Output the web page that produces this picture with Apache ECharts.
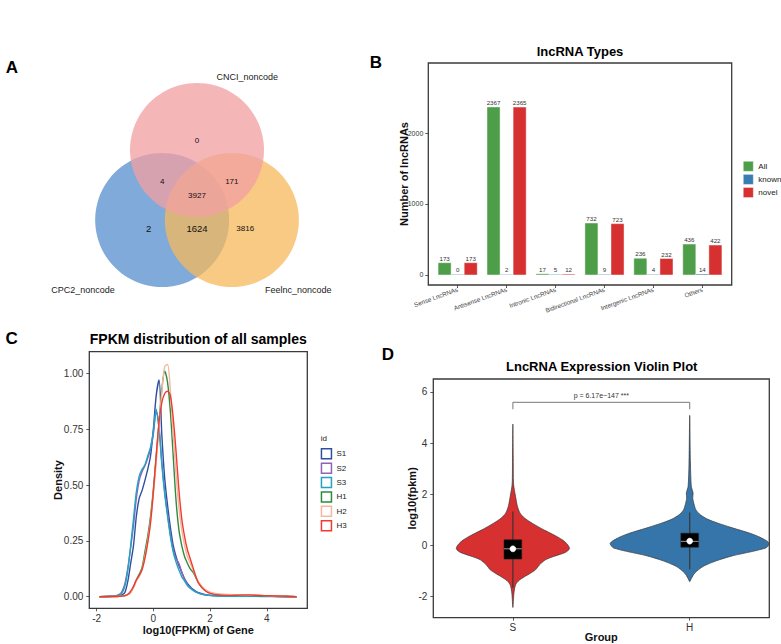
<!DOCTYPE html>
<html>
<head>
<meta charset="utf-8">
<script src="https://cdn.jsdelivr.net/npm/echarts@6/dist/echarts.min.js"></script>
<style>html,body{margin:0;padding:0;background:#fff}#main{width:781px;height:644px}</style>
</head>
<body>
<div id="main"></div>
<script>
// ================= DATA =================
// Panel A : Venn diagram
const vennSetNames = ['CNCI_noncode', 'CPC2_noncode', 'Feelnc_noncode'];
const vennRegionNames = ['CNCI only', 'CNCI & CPC2', 'CNCI & Feelnc', 'CNCI & CPC2 & Feelnc', 'CPC2 only', 'CPC2 & Feelnc', 'Feelnc only'];
const vennRegionCounts = [0, 4, 171, 3927, 2, 1624, 3816];

// Panel B : lncRNA types
const bTitle = 'lncRNA Types';
const bCategories = ['Sense LncRNAs', 'Antisense LncRNAs', 'Intronic LncRNAs', 'Bidirectional LncRNAs', 'Intergenic LncRNAs', 'Others'];
const bSeriesNames = ['All', 'known', 'novel'];
const bAll = [173, 2367, 17, 732, 236, 436];
const bKnown = [0, 2, 5, 9, 4, 14];
const bNovel = [173, 2365, 12, 723, 232, 422];
const bYTicks = [0, 1000, 2000];

// Panel C : FPKM density
const cTitle = 'FPKM distribution of all samples';
const cSeriesNames = ['S1', 'S2', 'S3', 'H1', 'H2', 'H3'];
const cX = [-1.9, -1.4, -1.2, -1.1, -1.0, -0.9, -0.8, -0.7, -0.6, -0.5, -0.4, -0.3, -0.2, -0.1, 0.0, 0.1, 0.2, 0.3, 0.4, 0.5, 0.6, 0.7, 0.8, 0.9, 1.0, 1.1, 1.2, 1.3, 1.4, 1.5, 1.6, 1.8, 2.0, 2.3, 2.8, 3.3, 3.8, 4.4, 5.05];
const cS1 = [0, 0.002, 0.004, 0.008, 0.02, 0.07, 0.15, 0.23, 0.36, 0.44, 0.475, 0.52, 0.57, 0.63, 0.75, 0.90, 0.97, 0.72, 0.53, 0.41, 0.31, 0.23, 0.18, 0.14, 0.11, 0.08, 0.06, 0.045, 0.033, 0.024, 0.018, 0.01, 0.006, 0.004, 0.003, 0.002, 0.002, 0.001, 0];
const cS2 = [0, 0.003, 0.01, 0.025, 0.06, 0.13, 0.22, 0.32, 0.44, 0.52, 0.56, 0.585, 0.62, 0.66, 0.73, 0.83, 0.76, 0.60, 0.47, 0.37, 0.28, 0.21, 0.17, 0.15, 0.11, 0.08, 0.055, 0.04, 0.03, 0.022, 0.016, 0.009, 0.006, 0.004, 0.003, 0.002, 0.002, 0.001, 0];
const cS3 = [0, 0.002, 0.008, 0.018, 0.05, 0.12, 0.23, 0.35, 0.47, 0.54, 0.57, 0.59, 0.63, 0.67, 0.74, 0.84, 0.75, 0.59, 0.46, 0.36, 0.27, 0.20, 0.155, 0.12, 0.09, 0.07, 0.05, 0.038, 0.028, 0.02, 0.015, 0.008, 0.005, 0.003, 0.002, 0.002, 0.001, 0.001, 0];
const cH1 = [0, 0.001, 0.002, 0.003, 0.005, 0.01, 0.02, 0.045, 0.075, 0.10, 0.13, 0.20, 0.27, 0.36, 0.48, 0.63, 0.78, 0.93, 1.01, 0.96, 0.83, 0.63, 0.43, 0.30, 0.23, 0.18, 0.15, 0.125, 0.11, 0.085, 0.06, 0.03, 0.018, 0.01, 0.009, 0.006, 0.005, 0.002, 0];
const cH2 = [0, 0.001, 0.002, 0.003, 0.005, 0.01, 0.02, 0.04, 0.07, 0.09, 0.12, 0.18, 0.25, 0.34, 0.46, 0.60, 0.76, 0.92, 1.03, 1.04, 0.92, 0.73, 0.55, 0.40, 0.30, 0.23, 0.18, 0.15, 0.12, 0.09, 0.065, 0.035, 0.02, 0.012, 0.009, 0.007, 0.006, 0.003, 0];
const cH3 = [0, 0.001, 0.002, 0.003, 0.005, 0.01, 0.025, 0.045, 0.075, 0.095, 0.12, 0.17, 0.24, 0.33, 0.47, 0.63, 0.78, 0.87, 0.91, 0.92, 0.90, 0.80, 0.65, 0.48, 0.35, 0.27, 0.21, 0.17, 0.13, 0.09, 0.06, 0.03, 0.015, 0.008, 0.006, 0.008, 0.005, 0.003, 0];
const cXTicks = [-2, 0, 2, 4];
const cYTicks = [0, 0.25, 0.5, 0.75, 1.0];

// Panel D : violin plot
const dTitle = 'LncRNA Expression Violin Plot';
const dGroups = ['S', 'H'];
const dViolinLevelsS = [4.74, 3.5, 2.4, 1.92, 1.52, 1.26, 1.07, 0.87, 0.61, 0.42, 0.22, 0.03, -0.13, -0.27, -0.43, -0.56, -0.76, -0.95, -1.08, -1.21, -1.37, -1.54, -1.86, -2.42];
const dViolinDensityS = [0, 0.002, 0.004, 0.015, 0.026, 0.041, 0.066, 0.109, 0.175, 0.23, 0.28, 0.31, 0.32, 0.297, 0.23, 0.184, 0.15, 0.128, 0.10, 0.068, 0.034, 0.015, 0.006, 0];
const dViolinLevelsH = [5.08, 3.22, 2.31, 2.05, 1.85, 1.65, 1.39, 1.2, 1.03, 0.87, 0.68, 0.48, 0.33, 0.16, 0.07, -0.04, -0.10, -0.23, -0.40, -0.60, -0.82, -1.08, -1.28, -1.41];
const dViolinDensityH = [0, 0.004, 0.009, 0.019, 0.017, 0.023, 0.035, 0.06, 0.1, 0.16, 0.245, 0.34, 0.395, 0.44, 0.45, 0.44, 0.43, 0.357, 0.244, 0.15, 0.075, 0.028, 0.01, 0];
// [lower whisker, Q1, median, Q3, upper whisker]
const dBoxS = [-1.65, -0.53, -0.13, 0.22, 1.33];
const dBoxH = [-0.93, -0.065, 0.16, 0.48, 1.29];
const dMeans = [-0.13, 0.17];
const dPLabel = 'p = 6.17e\u2212147 ***';
const dYTicks = [-2, 0, 2, 4, 6];

// ================= LAYOUT / STYLE =================
const FONT = '"Liberation Sans", Arial, Helvetica, sans-serif';
const vennCircleCenters = [[0, 1.045], [-0.52, 0], [0.52, 0]]; // unit = circle radius
const vennCircleColors = ['rgba(242,160,163,0.77)', 'rgb(127,170,217)', 'rgba(246,184,91,0.75)'];
const vennDrawOrder = [1, 2, 0];
const vennRegionPos = [[0, 1.19], [-0.52, 0.58], [0.52, 0.58], [0, 0.36], [-0.72, -0.13], [0, -0.13], [0.72, -0.13]];
const vennRegionFont = [8, 8, 8, 8, 9.5, 9.5, 8];
const vennSetLabelPos = [[0.75, 2.13], [-1.70, -1.045], [1.51, -1.045]];
const bColors = ['#4E9E49', '#3A7BB2', '#D63030'];
const bDodge = 0.8 / 3;
const cColors = ['#2F4F9E', '#9163B6', '#22A3C4', '#2E8B3E', '#F5B7A0', '#F23B2F'];
const dColors = ['#D63030', '#3575AA'];
const dBracket = {top: 5.59, foot: 5.32, text: 5.72};

const chart = echarts.init(document.getElementById('main'), null, {renderer: 'svg', width: 781, height: 644});

function mkAxis(gridIndex, min, max, ticks, label, name, pos) {
  return {
    gridIndex: gridIndex, type: 'value', min: min, max: max, position: pos,
    axisLine: {show: false, onZero: false}, splitLine: {show: false}, splitArea: {show: false}, minorTick: {show: false},
    axisTick: {show: true, customValues: ticks, length: 3, inside: false, lineStyle: {color: '#333', width: 0.8}},
    axisLabel: Object.assign({show: true, inside: false, customValues: ticks, fontFamily: FONT, color: '#333', hideOverlap: false}, label || {}),
    name: name ? name.text : '', nameLocation: 'middle', nameGap: name ? name.gap : 0, nameMoveOverlap: false,
    nameTextStyle: name ? {fontFamily: FONT, fontSize: name.size, fontWeight: 'bold', color: '#111'} : {}
  };
}

function txt(text, x, y, size, bold, extra) {
  return Object.assign({type: 'text', x: x, y: y, silent: true, z: 100,
    style: {text: text, fontSize: size, fontWeight: bold ? 'bold' : 'normal', fontFamily: FONT, fill: '#000', align: 'center', verticalAlign: 'middle'}}, extra || {});
}

const frame = {show: true, borderColor: '#3a3a3a', borderWidth: 1.3, backgroundColor: '#fff', outerBoundsMode: 'none', containLabel: false};

// ---------- series ----------
const series = [];

// Venn circles
series.push({
  type: 'custom', name: 'venn', coordinateSystem: 'cartesian2d', xAxisIndex: 0, yAxisIndex: 0, clip: false, silent: true,
  data: vennDrawOrder.map(function (i) { return [vennCircleCenters[i][0], vennCircleCenters[i][1], i]; }),
  renderItem: function (params, api) {
    const c = api.coord([api.value(0), api.value(1)]);
    const r = api.size([1, 1])[0];
    return {type: 'circle', shape: {cx: c[0], cy: c[1], r: r}, style: {fill: vennCircleColors[api.value(2)], stroke: 'none'}};
  }
});
series.push({
  type: 'custom', name: 'vennCounts', coordinateSystem: 'cartesian2d', xAxisIndex: 0, yAxisIndex: 0, clip: false, silent: true, z: 5,
  data: vennRegionCounts.map(function (v, i) { return [vennRegionPos[i][0], vennRegionPos[i][1], v, i]; }),
  renderItem: function (params, api) {
    const c = api.coord([api.value(0), api.value(1)]);
    return {type: 'text', x: c[0], y: c[1], style: {text: String(api.value(2)), fontSize: vennRegionFont[api.value(3)], fontFamily: FONT, fill: '#111', align: 'center', verticalAlign: 'middle'}};
  }
});
series.push({
  type: 'custom', name: 'vennSets', coordinateSystem: 'cartesian2d', xAxisIndex: 0, yAxisIndex: 0, clip: false, silent: true, z: 5,
  data: vennSetNames.map(function (n, i) { return [vennSetLabelPos[i][0], vennSetLabelPos[i][1], i]; }),
  renderItem: function (params, api) {
    const c = api.coord([api.value(0), api.value(1)]);
    return {type: 'text', x: c[0], y: c[1], style: {text: vennSetNames[api.value(2)], fontSize: 9, fontFamily: FONT, fill: '#222', align: 'center', verticalAlign: 'middle'}};
  }
});

// Bars (panel B)
[bAll, bKnown, bNovel].forEach(function (vals, si) {
  const offset = (si - 1) * bDodge;
  series.push({
    type: 'custom', name: bSeriesNames[si], coordinateSystem: 'cartesian2d', xAxisIndex: 1, yAxisIndex: 1, clip: false,
    itemStyle: {color: bColors[si]},
    data: vals.map(function (v, i) { return [i, v]; }),
    renderItem: function (params, api) {
      const x = api.value(0) + offset, v = api.value(1);
      const p0 = api.coord([x - bDodge / 2, 0]);
      const p1 = api.coord([x + bDodge / 2, v]);
      const h = Math.max(p0[1] - p1[1], 0.6);
      return {type: 'group', children: [
        {type: 'rect', shape: {x: p0[0], y: p0[1] - h, width: p1[0] - p0[0], height: h},
          style: {fill: bColors[si], stroke: 'rgba(255,255,255,0.55)', lineWidth: 0.8}},
        {type: 'text', x: (p0[0] + p1[0]) / 2, y: p0[1] - h - 1.5,
          style: {text: String(v), fontSize: 6.2, fontFamily: FONT, fill: '#333', align: 'center', verticalAlign: 'bottom'}}
      ]};
    }
  });
});

// Density lines (panel C)
[cS1, cS2, cS3, cH1, cH2, cH3].forEach(function (ys, si) {
  series.push({
    type: 'line', name: cSeriesNames[si], xAxisIndex: 2, yAxisIndex: 2, showSymbol: false, symbol: 'none',
    smooth: 0.3, color: cColors[si], lineStyle: {color: cColors[si], width: 1.4}, silent: true,
    data: cX.map(function (x, i) { return [x, ys[i]]; })
  });
});

// Violins (panel D)
const dLevels = [dViolinLevelsS, dViolinLevelsH];
const dDens = [dViolinDensityS, dViolinDensityH];
series.push({
  type: 'custom', name: 'violin', coordinateSystem: 'cartesian2d', xAxisIndex: 3, yAxisIndex: 3, clip: true, silent: true,
  data: dGroups.map(function (g, i) { return [i + 1, 0, i]; }),
  renderItem: function (params, api) {
    const gi = api.value(2), cx = api.value(0);
    const ys = dLevels[gi], ws = dDens[gi];
    const pts = [];
    for (let k = 0; k < ys.length; k++) pts.push(api.coord([cx - ws[k], ys[k]]));
    for (let k = ys.length - 2; k >= 1; k--) pts.push(api.coord([cx + ws[k], ys[k]]));
    return {type: 'polygon', shape: {points: pts, smooth: 0.25}, style: {fill: dColors[gi], stroke: '#3a3a3a', lineWidth: 0.7}};
  }
});
const dBoxes = [dBoxS, dBoxH];
series.push({
  type: 'custom', name: 'box', coordinateSystem: 'cartesian2d', xAxisIndex: 3, yAxisIndex: 3, clip: true, silent: true, z: 3,
  data: dGroups.map(function (g, i) { return [i + 1].concat(dBoxes[i]).concat([dMeans[i]]); }),
  renderItem: function (params, api) {
    const x = api.value(0);
    const lw = api.coord([x, api.value(1)]), q1 = api.coord([x - 0.05, api.value(2)]);
    const md = api.coord([x, api.value(3)]), q3 = api.coord([x + 0.05, api.value(4)]);
    const uw = api.coord([x, api.value(5)]), mn = api.coord([x, api.value(6)]);
    return {type: 'group', children: [
      {type: 'line', shape: {x1: lw[0], y1: lw[1], x2: uw[0], y2: uw[1]}, style: {stroke: '#333', lineWidth: 1.1}},
      {type: 'rect', shape: {x: q1[0], y: q3[1], width: q3[0] - q1[0], height: q1[1] - q3[1]}, style: {fill: '#000', stroke: '#222', lineWidth: 0.6}},
      {type: 'line', shape: {x1: q1[0], y1: md[1], x2: q3[0], y2: md[1]}, style: {stroke: '#fff', lineWidth: 0.6}},
      {type: 'circle', shape: {cx: mn[0], cy: mn[1], r: 3}, style: {fill: '#fff', stroke: '#fff', lineWidth: 0.5}}
    ]};
  }
});
series.push({
  type: 'custom', name: 'pvalue', coordinateSystem: 'cartesian2d', xAxisIndex: 3, yAxisIndex: 3, clip: false, silent: true, z: 3,
  data: [[1, 2]],
  renderItem: function (params, api) {
    const a = api.coord([api.value(0), dBracket.foot]), b = api.coord([api.value(0), dBracket.top]);
    const c = api.coord([api.value(1), dBracket.top]), d = api.coord([api.value(1), dBracket.foot]);
    const t = api.coord([(api.value(0) + api.value(1)) / 2, dBracket.text]);
    return {type: 'group', children: [
      {type: 'polyline', shape: {points: [a, b, c, d]}, style: {stroke: '#555', lineWidth: 0.8, fill: 'none'}},
      {type: 'text', x: t[0], y: t[1], style: {text: dPLabel, fontSize: 7, fontFamily: FONT, fill: '#333', align: 'center', verticalAlign: 'bottom'}}
    ]};
  }
});

const option = {
  animation: false,
  backgroundColor: '#fff',
  textStyle: {fontFamily: FONT},
  grid: [
    {left: 63, top: 52.5, width: 268, height: 268, show: false, outerBoundsMode: 'none', containLabel: false},
    Object.assign({left: 428.3, top: 63, width: 303.4, height: 222}, frame),
    Object.assign({left: 89.3, top: 351.7, width: 218, height: 256.6}, frame),
    Object.assign({left: 433.3, top: 379, width: 336, height: 238.7}, frame)
  ],
  xAxis: [
    {gridIndex: 0, type: 'value', min: -2, max: 2, show: false},
    mkAxis(1, -0.6, 5.6, [0, 1, 2, 3, 4, 5], {formatter: function (v) { return bCategories[Math.round(v)]; }, rotate: 20, fontSize: 6.3, margin: 4, color: '#444'}, null, 'bottom'),
    mkAxis(2, -2.26, 5.43, cXTicks, {fontSize: 10, margin: 5, formatter: function (v) { return String(v); }}, {text: 'log10(FPKM) of Gene', gap: 16, size: 11}, 'bottom'),
    mkAxis(3, 0.55, 2.45, [1, 2], {fontSize: 10, margin: 5, formatter: function (v) { return dGroups[Math.round(v) - 1]; }}, {text: 'Group', gap: 14, size: 11}, 'bottom')
  ],
  yAxis: [
    {gridIndex: 0, type: 'value', min: -1.5, max: 2.5, show: false},
    mkAxis(1, -141, 2986, bYTicks, {fontSize: 7, margin: 5, align: 'right', formatter: function (v) { return String(v); }}, {text: 'Number of lncRNAs', gap: 19, size: 11}, 'left'),
    mkAxis(2, -0.052, 1.097, cYTicks, {fontSize: 10, margin: 6, align: 'right', formatter: function (v) { return v.toFixed(2); }}, {text: 'Density', gap: 26, size: 11}, 'left'),
    mkAxis(3, -2.82, 6.5, dYTicks, {fontSize: 10, margin: 6, align: 'right', formatter: function (v) { return String(v); }}, {text: 'log10(fpkm)', gap: 15.5, size: 11}, 'left')
  ],
  legend: [
    {left: 743, top: 161, orient: 'vertical', padding: 0, itemWidth: 10, itemHeight: 10, itemGap: 2.5, selectedMode: false,
      textStyle: {fontSize: 8, color: '#222', fontFamily: FONT},
      data: bSeriesNames.map(function (n, i) { return {name: n, icon: 'rect', itemStyle: {color: bColors[i], borderColor: 'rgba(255,255,255,0.6)', borderWidth: 0.6}}; })},
    {left: 320.7, top: 448, orient: 'vertical', padding: 0, itemWidth: 10, itemHeight: 10, itemGap: 2.9, selectedMode: false,
      textStyle: {fontSize: 8, color: '#222', fontFamily: FONT},
      data: cSeriesNames.map(function (n, i) { return {name: n, icon: 'rect', itemStyle: {color: '#fff', borderColor: cColors[i], borderWidth: 1.5}}; })}
  ],
  graphic: [
    txt('A', 12, 67, 17, true), txt('B', 376, 62, 17, true), txt('C', 11.7, 338.7, 17, true), txt('D', 388, 354, 17, true),
    txt(bTitle, 580, 51, 13, true), txt(cTitle, 198.3, 339, 14, true), txt(dTitle, 601.7, 366.7, 13, true),
    txt('id', 320.7, 438, 8, false, {style: {text: 'id', fontSize: 8, fontFamily: FONT, fill: '#222', align: 'left', verticalAlign: 'middle'}})
  ],
  series: series
};
chart.setOption(option);
</script>
</body>
</html>
